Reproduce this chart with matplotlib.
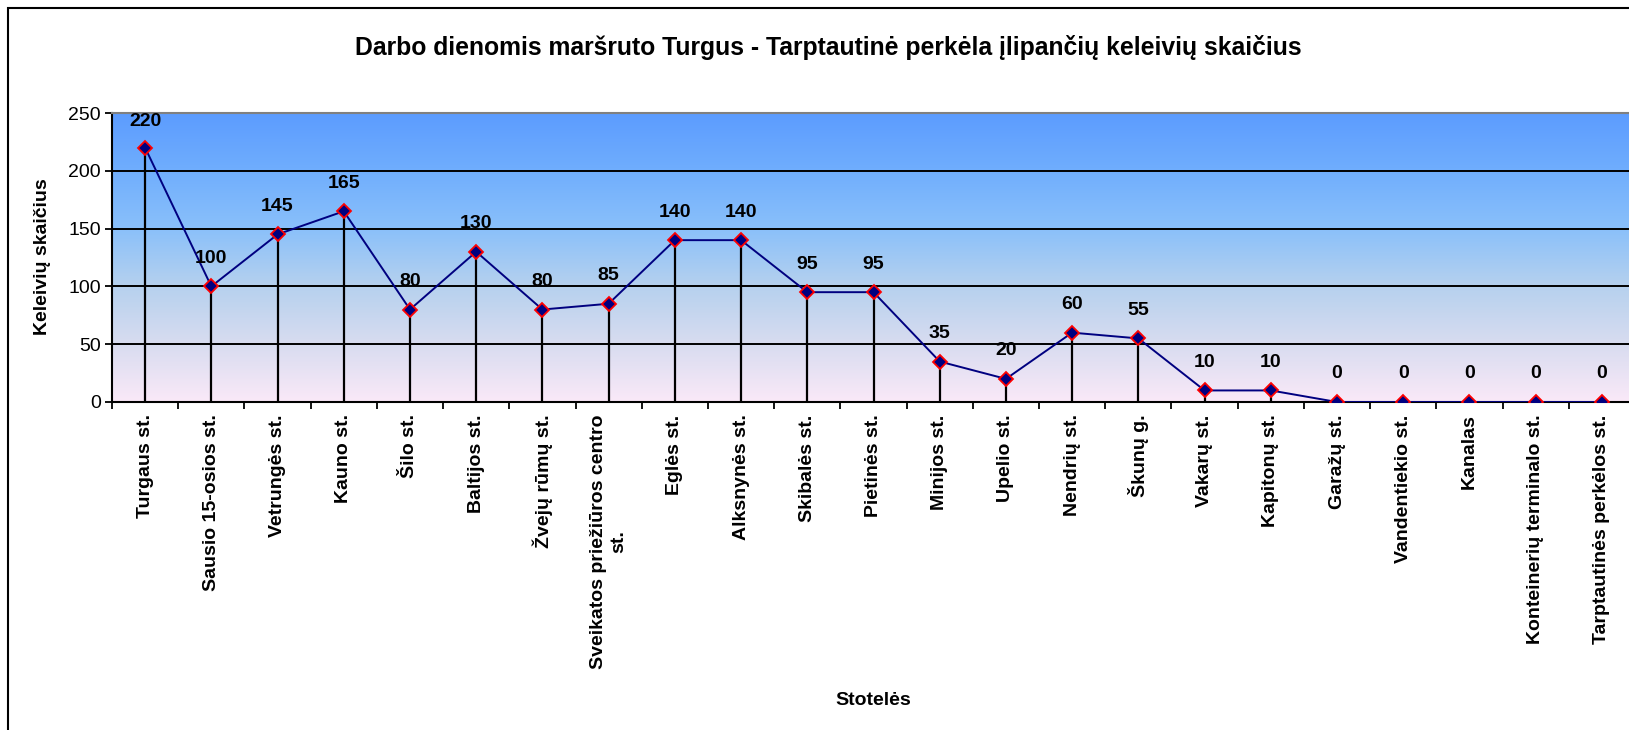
import matplotlib
matplotlib.use("Agg")
import matplotlib.pyplot as plt
import numpy as np
from matplotlib.colors import LinearSegmentedColormap
from matplotlib.patches import Rectangle
from matplotlib.ticker import FixedLocator, NullFormatter

plt.rcParams['font.family'] = ['Liberation Sans', 'DejaVu Sans']

categories = ["Turgaus st.", "Sausio 15-osios st.", "Vetrungės st.", "Kauno st.", "Šilo st.",
              "Baltijos st.", "Žvejų rūmų st.", "Sveikatos priežiūros centro\nst.", "Eglės st.",
              "Alksnynės st.", "Skibalės st.", "Pietinės st.", "Minijos st.", "Upelio st.",
              "Nendrių st.", "Škunų g.", "Vakarų st.", "Kapitonų st.", "Garažų st.",
              "Vandentiekio st.", "Kanalas", "Konteinerių terminalo st.", "Tarptautinės perkėlos st."]
values = [220, 100, 145, 165, 80, 130, 80, 85, 140, 140, 95, 95, 35, 20, 60, 55, 10, 10, 0, 0, 0, 0, 0]
yticks = [0, 50, 100, 150, 200, 250]
title = "Darbo dienomis maršruto Turgus - Tarptautinė perkėla įlipančių keleivių skaičius"
xlabel = "Stotelės"
ylabel = "Keleivių skaičius"

W, H = 1629, 730
fig = plt.figure(figsize=(W / 100, H / 100), dpi=100)
left, top, bottom, right = 112, 113, 402, 1635
ax = fig.add_axes([left / W, 1 - bottom / H, (right - left) / W, (bottom - top) / H])

n = len(categories)
x = np.arange(n)
ymax = 250
ax.set_xlim(-0.5, n - 0.5)
ax.set_ylim(0, ymax)

# gradient background
cmap = LinearSegmentedColormap.from_list("bg", [
    (0.0, (250/255, 233/255, 248/255)),
    (0.2, (216/255, 220/255, 240/255)),
    (0.4, (182/255, 209/255, 238/255)),
    (0.6, (138/255, 192/255, 250/255)),
    (0.8, (112/255, 174/255, 253/255)),
    (1.0, (92/255, 156/255, 255/255)),
])
grad = np.linspace(0, 1, 256).reshape(-1, 1)
ax.imshow(grad, extent=(-0.5, n - 0.5, 0, ymax), origin='lower', aspect='auto', cmap=cmap, zorder=0)

ax.set_yticks(yticks)
ax.yaxis.grid(True, color='black', linewidth=1.4, zorder=1)
ax.set_axisbelow(True)

# drop lines
ax.vlines(x, 0, values, colors='black', linewidth=1.6, zorder=2)
ax.plot(x, values, color='#000080', linewidth=1.4, marker='D', markersize=7.5,
        markerfacecolor='#000080', markeredgecolor='red', markeredgewidth=1.3, zorder=4)

# data labels, kept inside the plot area like the original
px_per_unit = (bottom - top) / ymax
label_off_px = 28
half_h_px = 9
for xi, v in zip(x, values):
    center = v + label_off_px / px_per_unit
    if center + half_h_px / px_per_unit > ymax:
        center = ymax - half_h_px / px_per_unit
    ax.text(xi, center, str(v), ha='center', va='center', fontsize=14,
            fontweight='bold', zorder=5)

ax.set_xticks(x)
ax.set_xticklabels(categories, rotation=90, fontsize=14, fontweight='bold',
                   ha='center', va='top', multialignment='center')
ax.tick_params(axis='x', which='major', length=0, pad=9)
ax.xaxis.set_minor_locator(FixedLocator(np.arange(n + 1) - 0.5))
ax.xaxis.set_minor_formatter(NullFormatter())
ax.tick_params(axis='x', which='minor', length=5, width=1.3, direction='out', color='black')
ax.tick_params(axis='y', labelsize=14, length=5, width=1.3, direction='out', pad=3)

for s in ['left', 'bottom']:
    ax.spines[s].set_color('black')
    ax.spines[s].set_linewidth(1.5)
ax.spines['top'].set_color('#808080')
ax.spines['top'].set_linewidth(1.5)
ax.spines['right'].set_visible(False)

ax.set_xlabel(xlabel, fontsize=14, fontweight='bold')
ax.xaxis.set_label_coords(0.5, -(692 - bottom) / (bottom - top), transform=ax.transAxes)
ax.set_ylabel(ylabel, fontsize=14, fontweight='bold')
ax.yaxis.set_label_coords(51 / W, 1 - 257 / H, transform=fig.transFigure)

fig.text(828 / W, 1 - 47 / H, title, ha='center', va='center', fontsize=17.8, fontweight='bold')

fig.patches.append(Rectangle((7.5 / W, -0.2), 2, 1.2 - 7.5 / H, transform=fig.transFigure,
                             fill=False, edgecolor='black', linewidth=1.5))

fig.savefig("out.png", dpi=100)
